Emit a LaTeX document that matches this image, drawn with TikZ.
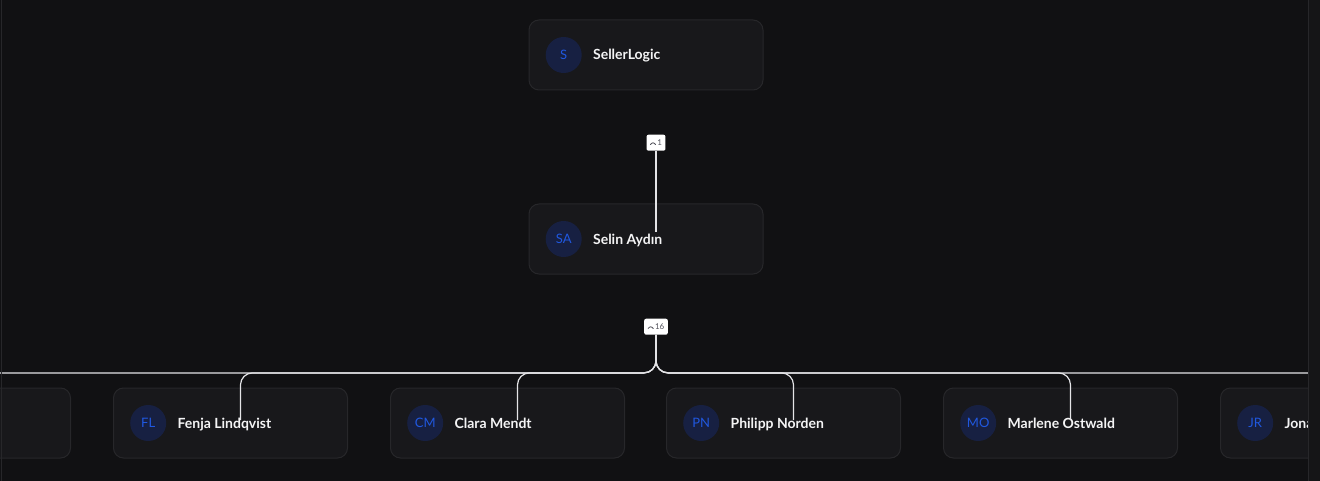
\documentclass[tikz,border=0pt]{standalone}
\usepackage{fontspec}
\setmainfont{Lato}
\usetikzlibrary{positioning, calc}
\definecolor{ocBack}{HTML}{111113}
\definecolor{ocCard}{HTML}{18181B}
\definecolor{ocEdge}{HTML}{27272A}
\definecolor{ocAvatar}{HTML}{172042}
\definecolor{ocBlue}{HTML}{2058E0}
\definecolor{ocText}{HTML}{F4F4F5}
\definecolor{ocLink}{HTML}{E4E4E7}
\definecolor{ocBadge}{HTML}{52525B}
\definecolor{ocSide}{HTML}{151517}
\newcommand{\chevup}{\tikz[baseline=-1pt]\draw[ocBadge, line width=0.8pt, line cap=round, line join=round] (0pt,0pt) -- (2.6pt,2.6pt) -- (5.2pt,0pt);}
\tikzset{
  ocard/.style={rectangle, rounded corners=10pt, draw=ocEdge, line width=1pt, fill=ocCard,
                minimum width=234pt, minimum height=70pt},
  avatar/.style={circle, fill=ocAvatar, minimum size=36pt, inner sep=0pt, text=ocBlue,
                 text height=9pt, text depth=0pt, font=\fontsize{13}{13}\selectfont},
  oname/.style={inner sep=0pt, text=ocText, text height=10pt, text depth=0pt,
                font=\fontsize{14}{14}\selectfont\bfseries},
  badge/.style={rectangle, rounded corners=2pt, fill=white, text=ocBadge, minimum height=16pt,
                inner xsep=3.5pt, inner ysep=0pt, font=\fontsize{8}{8}\selectfont},
  link/.style={draw=ocLink, line width=1.2pt, rounded corners=12pt},
}

\begin{document}
\begin{tikzpicture}[x=1pt, y=-1pt, node distance=42pt]
  \useasboundingbox (0,0) rectangle (1320,481);
  \fill[ocBack] (0,0) rectangle (1320,481);
  \begin{scope}
  \clip (0,0) rectangle (1308,481);
  \node[ocard](root) at (646,55){};
  \node[avatar, right=17pt of root.west](root-av){S};
  \node[oname, right=11pt of root-av](root-name){SellerLogic};
  \node[badge, below=44pt of root, xshift=10pt](b1){\chevup\,1};
  \node[ocard, below=113pt of root](selin){};
  \node[avatar, right=17pt of selin.west](selin-av){SA};
  \node[oname, right=11pt of selin-av](selin-name){Selin Aydın};
  \node[badge, below=44pt of selin, xshift=10pt](b2){\chevup\,16};
  \node[ocard, below=113pt of selin, xshift=-138.5pt](cm){};
  \node[ocard, left=of cm](fl){};
  \node[ocard, left=of fl](prev){};
  \node[ocard, right=41pt of cm](pn){};
  \node[ocard, right=of pn](mo){};
  \node[ocard, right=of mo](jr){};
  \foreach \n/\ini/\who in {fl/FL/Fenja Lindqvist, cm/CM/Clara Mendt, pn/PN/Philipp Norden,
                            mo/MO/Marlene Ostwald, jr/JR/Jona}{
    \node[avatar, right=17pt of \n.west](\n-av){\ini};
    \node[oname, right=11pt of \n-av](\n-name){\who};
  }
  \coordinate[below=38pt of b2.south](bus);
  \draw[link](b1)--([yshift=7pt]b1 |- selin.center);
  \foreach \n in {prev, fl, cm, pn, mo, jr}
    \draw[link](b2)--(bus)-|([xshift=10pt, yshift=3pt]\n.center);
  \end{scope}
  \draw[ocEdge, line width=1pt](1,0)--(1,481);
  \fill[ocSide](1308,0) rectangle (1320,481);
  \draw[ocEdge, line width=1pt](1308.5,0)--(1308.5,481);
\end{tikzpicture}
\end{document}
